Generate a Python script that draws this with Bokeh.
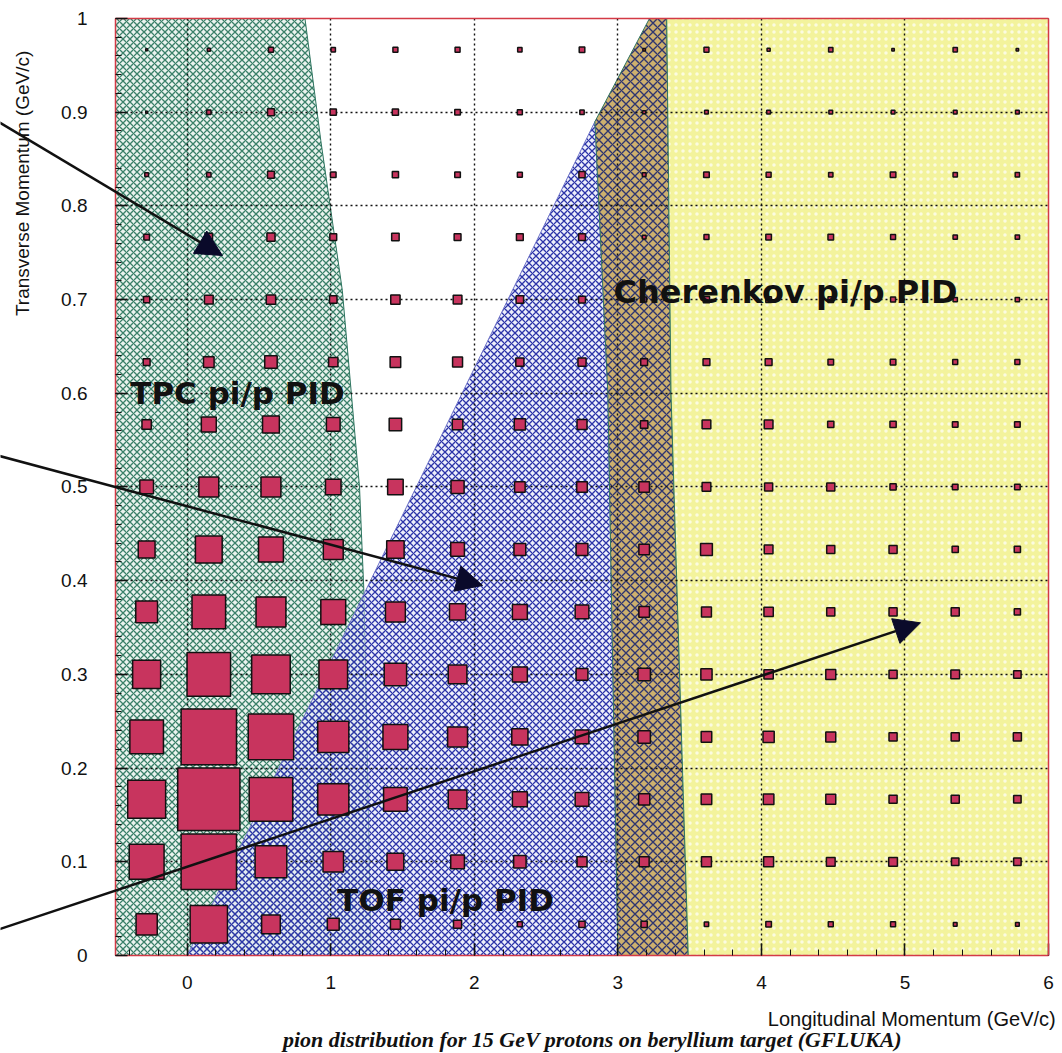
from math import pi
from bokeh.plotting import figure
from bokeh.models import (Label, Arrow, NormalHead, ColumnDataSource, FixedTicker, Range1d,
                          LinearAxis)
from bokeh.embed import file_html
from bokeh.resources import INLINE

# ---- data -------------------------------------------------------------
x_centers = [-0.283, 0.15, 0.583, 1.017, 1.45, 1.883, 2.317, 2.75,
             3.183, 3.617, 4.05, 4.483, 4.917, 5.35, 5.783]
y_centers = [0.0333, 0.1, 0.1667, 0.2333, 0.3, 0.3667, 0.4333, 0.5,
             0.5667, 0.6333, 0.7, 0.7667, 0.8333, 0.9, 0.9667]
bin_w = 0.4333
bin_h = 0.0667

# relative box size (side, fraction of largest bin), rows = pT bins (bottom->top)
box_frac = [
    [0.34, 0.60, 0.30, 0.19, 0.16, 0.13, 0.08, 0.10, 0.10, 0.07, 0.09, 0.08, 0.08, 0.06, 0.06],
    [0.56, 0.89, 0.51, 0.33, 0.27, 0.22, 0.20, 0.16, 0.16, 0.16, 0.16, 0.14, 0.14, 0.12, 0.12],
    [0.61, 1.00, 0.70, 0.50, 0.38, 0.30, 0.24, 0.22, 0.18, 0.17, 0.17, 0.16, 0.13, 0.13, 0.12],
    [0.54, 0.89, 0.73, 0.50, 0.40, 0.32, 0.26, 0.22, 0.20, 0.17, 0.18, 0.16, 0.13, 0.13, 0.13],
    [0.45, 0.70, 0.62, 0.46, 0.36, 0.30, 0.24, 0.19, 0.20, 0.18, 0.15, 0.16, 0.13, 0.14, 0.12],
    [0.35, 0.54, 0.48, 0.40, 0.32, 0.26, 0.24, 0.22, 0.17, 0.16, 0.15, 0.13, 0.13, 0.13, 0.10],
    [0.27, 0.43, 0.40, 0.32, 0.28, 0.22, 0.19, 0.19, 0.17, 0.19, 0.14, 0.13, 0.13, 0.10, 0.10],
    [0.22, 0.32, 0.32, 0.25, 0.25, 0.21, 0.17, 0.17, 0.17, 0.14, 0.13, 0.13, 0.10, 0.09, 0.09],
    [0.15, 0.24, 0.27, 0.22, 0.20, 0.17, 0.18, 0.16, 0.12, 0.14, 0.14, 0.10, 0.10, 0.09, 0.09],
    [0.11, 0.17, 0.20, 0.15, 0.17, 0.16, 0.13, 0.13, 0.11, 0.11, 0.11, 0.09, 0.09, 0.08, 0.08],
    [0.10, 0.14, 0.15, 0.12, 0.15, 0.14, 0.12, 0.11, 0.08, 0.10, 0.09, 0.09, 0.08, 0.07, 0.07],
    [0.09, 0.12, 0.13, 0.11, 0.12, 0.11, 0.11, 0.11, 0.06, 0.08, 0.09, 0.09, 0.08, 0.07, 0.07],
    [0.06, 0.07, 0.11, 0.09, 0.10, 0.09, 0.08, 0.10, 0.06, 0.09, 0.08, 0.07, 0.09, 0.07, 0.07],
    [0.03, 0.07, 0.11, 0.10, 0.10, 0.09, 0.08, 0.07, 0.05, 0.06, 0.06, 0.06, 0.06, 0.06, 0.06],
    [0.03, 0.05, 0.08, 0.07, 0.08, 0.08, 0.07, 0.09, 0.04, 0.08, 0.05, 0.07, 0.04, 0.07, 0.04],
]

# PID regions (boundaries)
tpc_x = [-0.5, -0.5, 0.82, 0.93, 1.08, 1.20, 1.23, 1.25, 1.28]
tpc_y = [0.0, 1.0, 1.0, 0.87, 0.71, 0.50, 0.39, 0.25, 0.0]
tof_x = [0.0, 2.84, 2.93, 3.0]
tof_y = [0.0, 0.89, 0.60, 0.0]
mix_x = [3.0, 2.93, 2.84, 3.22, 3.34, 3.37, 3.49]
mix_y = [0.0, 0.60, 0.89, 1.0, 1.0, 0.60, 0.0]
cher_x = [3.49, 3.37, 3.34, 6.0, 6.0]
cher_y = [0.0, 0.60, 1.0, 1.0, 0.0]

x_ticks = [0, 1, 2, 3, 4, 5, 6]
y_ticks = [0, 0.1, 0.2, 0.3, 0.4, 0.5, 0.6, 0.7, 0.8, 0.9, 1.0]
x_lim = (-0.5, 6.0)
y_lim = (0.0, 1.0)

# ---- figure: the frame fills the canvas; axes are pinned at the plot edges
p = figure(width=1060, height=1053, x_range=Range1d(-1.3012, 6.0835), y_range=Range1d(-0.1046, 1.0192),
           output_backend="svg", toolbar_location=None,
           min_border_left=0, min_border_right=0, min_border_top=0, min_border_bottom=0)
p.background_fill_color = "white"
p.border_fill_color = "white"
p.outline_line_color = None

p.patch(tpc_x, tpc_y, fill_color="#eaf3ee", hatch_pattern="diagonal_cross", hatch_color="#3a8069",
        hatch_scale=7, hatch_weight=1.3, line_color="#2f7560", line_width=1, level="image")
p.patch(tof_x, tof_y, fill_color="#dfe1f7", fill_alpha=0.55, hatch_pattern="diagonal_cross",
        hatch_color="#2c34a8", hatch_scale=7, hatch_weight=1.3, line_color="#6f74c8", line_width=1,
        level="image")
p.patch(mix_x, mix_y, fill_color="#cdb06e", hatch_pattern="diagonal_cross", hatch_color="#2e3570",
        hatch_scale=9, hatch_weight=1.4, line_color="#2f7560", line_width=1, level="image")
p.patch(cher_x, cher_y, fill_color="#f3f39c", hatch_pattern="dot", hatch_color="white",
        hatch_alpha=0.7, hatch_scale=7, line_color="#2f7560", line_width=1, level="image")

xs, ys, ws, hs = [], [], [], []
for j, row in enumerate(box_frac):
    for i, f in enumerate(row):
        xs.append(x_centers[i]); ys.append(y_centers[j])
        ws.append(f * bin_w); hs.append(f * bin_h)
src = ColumnDataSource(dict(x=xs, y=ys, w=ws, h=hs))
p.rect("x", "y", "w", "h", source=src, fill_color="#c8345e", line_color="#111111", line_width=1.5)

# grid
p.xgrid.ticker = FixedTicker(ticks=[0, 1, 2, 3, 4, 5])
p.ygrid.ticker = FixedTicker(ticks=[0.1, 0.2, 0.3, 0.4, 0.5, 0.6, 0.7, 0.8, 0.9])
p.xgrid.bounds = x_lim
p.xgrid.cross_bounds = y_lim
p.ygrid.bounds = y_lim
p.ygrid.cross_bounds = x_lim
for g in (p.xgrid, p.ygrid):
    g.grid_line_color = "#111111"
    g.grid_line_dash = "2 3"
    g.grid_line_width = 1.4
    g.level = "underlay"

tick_font = "'Liberation Sans Narrow', 'Liberation Sans', sans-serif"
p.xaxis.fixed_location = y_lim[0]
p.xaxis.bounds = x_lim
p.yaxis.fixed_location = x_lim[0]
p.yaxis.bounds = y_lim
p.xaxis.ticker = FixedTicker(ticks=x_ticks, minor_ticks=[-0.4 + 0.2 * k for k in range(33)])
p.yaxis.ticker = FixedTicker(ticks=y_ticks, minor_ticks=[0.02 * k for k in range(51)])
p.yaxis.major_label_overrides = {0: "0", 1: "1"}
for ax in (p.xaxis, p.yaxis):
    ax.axis_line_color = "#d43a46"
    ax.axis_line_width = 1.5
    ax.major_tick_in = 12
    ax.major_tick_out = 0
    ax.minor_tick_in = 6
    ax.minor_tick_out = 0
    ax.major_tick_line_color = "#111111"
    ax.minor_tick_line_color = "#111111"
    ax.major_tick_line_width = 1.5
    ax.major_label_text_font = tick_font
    ax.major_label_text_font_size = "19px"
    ax.major_label_text_color = "#111111"
p.xaxis.major_label_standoff = 21
p.yaxis.major_label_standoff = 28

# closing edges of the frame (top / right), as unlabeled axes
top_ax = LinearAxis(fixed_location=y_lim[1], bounds=x_lim, ticker=FixedTicker(ticks=[]),
                    axis_line_color="#d43a46", axis_line_width=1.5, major_tick_in=0, major_tick_out=0,
                    minor_tick_in=0, minor_tick_out=0, major_label_text_font_size="0px")
right_ax = LinearAxis(fixed_location=x_lim[1], bounds=y_lim, ticker=FixedTicker(ticks=[]),
                      axis_line_color="#d43a46", axis_line_width=1.5, major_tick_in=0, major_tick_out=0,
                      minor_tick_in=0, minor_tick_out=0, major_label_text_font_size="0px")
p.add_layout(top_ax, "above")
p.add_layout(right_ax, "right")

# arrows from the (cut-off) left margin
arrow_pts = [(-1.33, 0.891, 0.245, 0.747), (-1.33, 0.534, 2.057, 0.395), (-1.33, 0.027, 5.108, 0.355)]
for xs0, ys0, xe, ye in arrow_pts:
    p.add_layout(Arrow(x_start=xs0, y_start=ys0, x_end=xe, y_end=ye, line_width=2.5, line_color="#111111",
                       end=NormalHead(size=26, fill_color="#0a0a2a", line_color="#0a0a2a")))

lab_font = "'DejaVu Sans', sans-serif"
for tx, ty, txt, fs in [(0.35, 0.600, "TPC pi/p PID", "31px"), (1.80, 0.059, "TOF pi/p PID", "31px"),
                        (4.168, 0.708, "Cherenkov pi/p PID", "32px")]:
    p.add_layout(Label(x=tx, y=ty, text=txt, text_font=lab_font, text_font_size=fs,
                       text_font_style="bold", text_color="#111111", text_align="center",
                       text_baseline="middle"))

p.add_layout(Label(x=-1.148, y=0.824, text="Transverse Momentum (GeV/c)", angle=pi / 2,
                   text_font="'Liberation Sans', Arial, sans-serif", text_font_size="19px",
                   text_color="#111111", text_align="center", text_baseline="middle"))
p.add_layout(Label(x=6.05, y=-0.068, text="Longitudinal Momentum (GeV/c)",
                   text_font="'Liberation Sans', Arial, sans-serif", text_font_size="20px",
                   text_color="#111111", text_align="right", text_baseline="middle"))
p.add_layout(Label(x=2.823, y=-0.0895, text="pion distribution for 15 GeV protons on beryllium target (GFLUKA)",
                   text_font="'Liberation Serif', 'Times New Roman', serif", text_font_size="22px",
                   text_font_style="bold italic", text_color="#111111", text_align="center",
                   text_baseline="middle"))

open("out.html", "w").write(file_html(p, INLINE))
